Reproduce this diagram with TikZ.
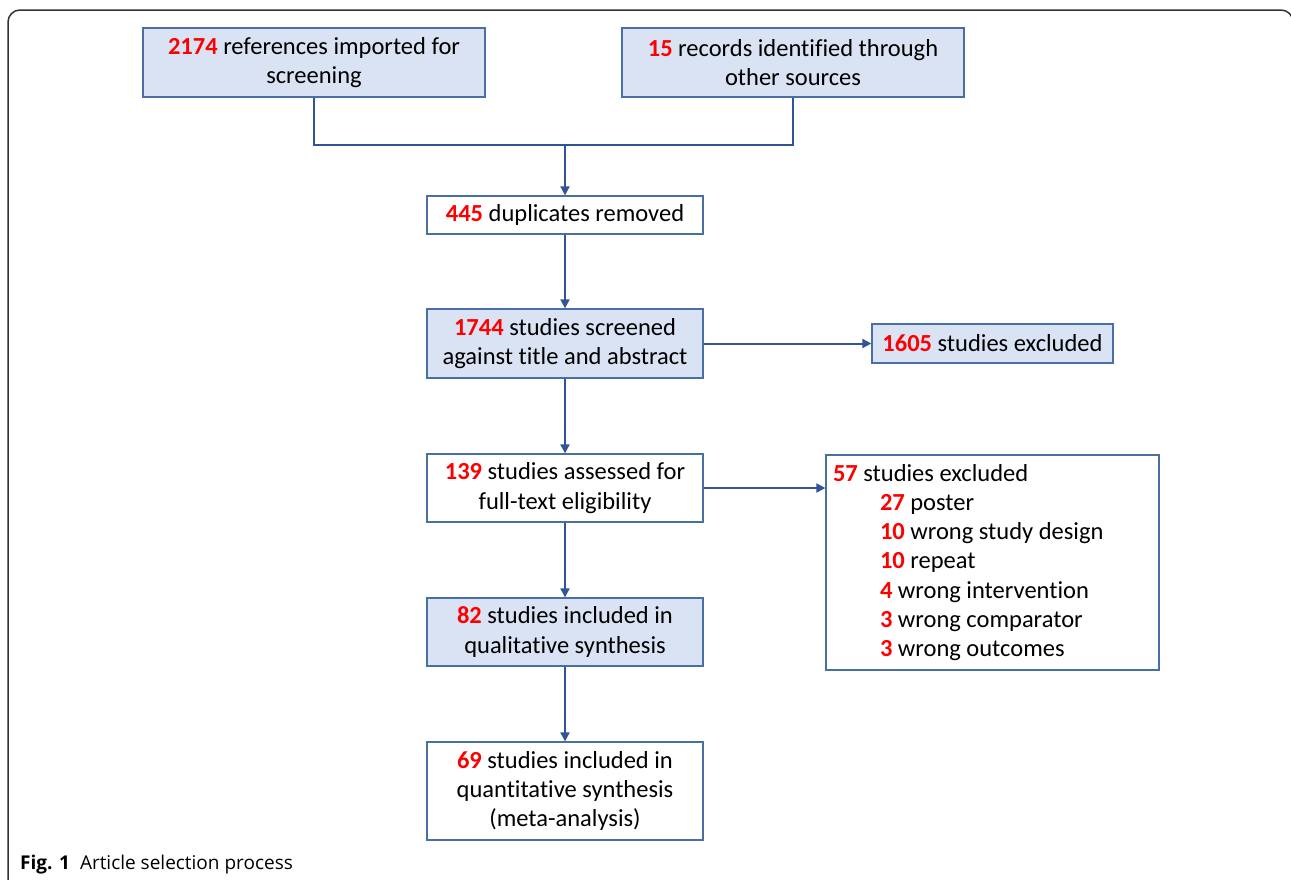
\documentclass[tikz,border=0pt]{standalone}
\usepackage{fontspec}
\setmainfont[RawFeature={-liga;-clig}]{Carlito}
\newfontfamily\capfont{Open Sans}
\usetikzlibrary{arrows.meta}
\definecolor{boxline}{HTML}{4A6FA5}
\definecolor{boxfill}{HTML}{DAE3F3}
\definecolor{conn}{HTML}{2F5597}
\definecolor{num}{HTML}{FF0000}
\newcommand{\nm}[1]{\textcolor{num}{\textbf{#1}}}
\tikzset{
  box/.style={draw=boxline, line width=1.3pt, inner sep=0pt, align=center,
    font=\fontsize{24.5}{29.2}\selectfont},
  bluebox/.style={box, fill=boxfill},
  whitebox/.style={box, fill=white},
  conline/.style={draw=conn, line width=2pt},
  conarrow/.style={conline, -{Triangle[length=9pt,width=9pt]}},
}
\begin{document}
\begin{tikzpicture}[x=1pt,y=-1pt]
\useasboundingbox (0,0) rectangle (1291,879);
\draw[line width=1.5pt, draw=black!80, rounded corners=12pt] (8,900) -- (8,10) -- (1293,10) -- (1293,900);

\node[bluebox, minimum width=342pt, minimum height=69pt] (a) at (314,62.5) {\nm{2174} references imported for\\screening};
\node[bluebox, minimum width=342pt, minimum height=69pt] (b) at (793,62.5) {\nm{15} records identified through\\other sources};
\node[whitebox, minimum width=276pt, minimum height=38pt] (c) at (565,215) {\nm{445} duplicates removed};
\node[bluebox, minimum width=276pt, minimum height=69pt] (d) at (565,343.5) {\nm{1744} studies screened\\against title and abstract};
\node[bluebox, minimum width=241pt, minimum height=39pt] (e) at (992.5,343.5) {\nm{1605} studies excluded};
\node[whitebox, minimum width=333pt, minimum height=215pt, text width=319pt, align=left] (g) at (992.5,562.5)
 {\spaceskip=0pt\xspaceskip=0pt\relax
  \nm{57} studies excluded\\
  \hspace*{47pt}\nm{27} poster\\
  \hspace*{47pt}\nm{10} wrong study design\\
  \hspace*{47pt}\nm{10} repeat\\
  \hspace*{47pt}\nm{4} wrong intervention\\
  \hspace*{47pt}\nm{3} wrong comparator\\
  \hspace*{47pt}\nm{3} wrong outcomes};
\node[whitebox, minimum width=276pt, minimum height=68pt] (f) at (565,488) {\nm{139} studies assessed for\\full-text eligibility};
\node[bluebox, minimum width=276pt, minimum height=68pt] (h) at (565,632) {\nm{82} studies included in\\qualitative synthesis};
\node[whitebox, minimum width=276pt, minimum height=98pt] (i) at (565,791) {\nm{69} studies included in\\quantitative synthesis\\(meta-analysis)};

\coordinate (m) at (565,145);
\draw[conline] (a.south) |- (m) -| (b.south);
\draw[conarrow] (m) -- (c.north);
\draw[conarrow] (c.south) -- (d.north);
\draw[conarrow] (d.east) -- (e.west);
\draw[conarrow] (d.south) -- (f.north);
\draw[conarrow] (f.east) -- (f.east -| g.west);
\draw[conarrow] (f.south) -- (h.north);
\draw[conarrow] (h.south) -- (i.north);

\node[anchor=base west, inner sep=0pt, font=\capfont\fontsize{19}{22}\selectfont] (cap) at (20,869)
  {\textbf{Fig. 1}\hspace{10pt}{\capfont\fontsize{19}{22}\selectfont Article selection process}};
\end{tikzpicture}
\end{document}
